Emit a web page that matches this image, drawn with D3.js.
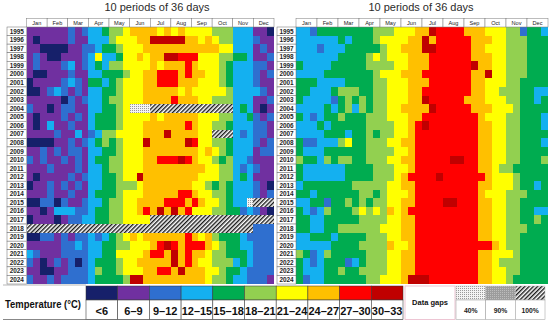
<!DOCTYPE html>
<meta charset="utf-8">
<style>
  body { margin: 0; background: #fff; }
  text { font-family: "Liberation Sans", Arial, sans-serif; }
  .narrow { font-family: "Liberation Sans Narrow", "Arial Narrow", "Liberation Sans", sans-serif; font-weight: bold; }
</style>
<svg width="550" height="324"></svg>
<script src="https://d3js.org/d3.v7.min.js"></script>
<script>

    // ---- data ----
    var chartTitle = "10 periods of 36 days";
    var years = [1995, 1996, 1997, 1998, 1999, 2000, 2001, 2002, 2003, 2004,
                 2005, 2006, 2007, 2008, 2009, 2010, 2011, 2012, 2013, 2014,
                 2015, 2016, 2017, 2018, 2019, 2020, 2021, 2022, 2023, 2024];
    var months = ["Jan", "Feb", "Mar", "Apr", "May", "Jun", "Jul", "Aug", "Sep", "Oct", "Nov", "Dec"];
    var tempClasses = ["<6", "6-9", "9-12", "12-15", "15-18", "18-21", "21-24", "24-27", "27-30", "30-33"];
    var tempColors = ["#16206a", "#7030a0", "#2f6fcf", "#14b0f0", "#00ac50",
                      "#92d050", "#ffff00", "#ffc000", "#ff0000", "#c00000"];
    var gapClasses = ["40%", "90%", "100%"];

    // class index per 10-day period (3 per month); d = 40% gap, h = 100% gap
    var leftRows = [
        "111 111 212 334 556 777 767 676 666 555 333 110",
        "101 111 211 333 566 677 999 997 767 655 333 211",
        "110 000 112 234 456 667 777 777 777 766 333 121",
        "121 001 112 363 346 676 779 988 866 655 443 112",
        "121 112 312 343 556 666 767 778 766 654 333 221",
        "100 111 211 334 445 667 788 878 776 654 333 212",
        "011 112 321 443 456 667 788 877 766 654 333 211",
        "001 232 121 334 456 667 777 767 666 665 333 321",
        "111 110 212 334 556 667 777 877 766 555 333 112",
        "211 012 211 334 456 ddd hhh hhh hhh hhh 343 101",
        "101 112 121 344 456 666 767 777 766 655 334 212",
        "101 311 211 344 456 667 777 778 766 554 333 221",
        "111 121 131 235 566 667 779 777 766 hhh 323 221",
        "000 011 212 345 456 669 777 779 866 554 333 212",
        "112 121 221 334 456 667 777 777 767 654 333 122",
        "212 112 121 344 556 667 788 898 766 545 332 111",
        "111 211 121 334 556 667 777 777 776 655 323 211",
        "101 111 212 334 456 697 777 777 766 655 343 111",
        "011 212 121 334 455 567 777 777 665 454 333 210",
        "111 211 211 344 456 667 777 788 766 554 333 212",
        "002 202 112 334 556 677 778 887 876 654 33d hhh",
        "110 133 322 344 556 678 797 978 666 554 423 210",
        "011 101 223 344 556 666 hhh hhh hhh hhh hhh hhh",
        "hhh hhh hhh hhh hhh hhh hhh hhh hhh hhh hhh 222",
        "002 212 122 323 456 767 777 778 767 544 432 222",
        "111 112 232 334 455 666 789 878 887 654 433 222",
        "321 112 222 334 466 667 887 978 776 554 443 222",
        "210 121 202 344 456 677 777 978 766 555 343 222",
        "110 011 222 354 456 667 788 797 776 654 432 222",
        "211 212 222 344 445 997 777 777 776 554 332 221"
    ];
    var rightRows = [
        "332 444 444 445 556 667 798 888 777 666 552 443",
        "333 333 434 445 666 677 978 888 877 766 555 444",
        "333 233 344 444 566 777 998 888 877 666 555 444",
        "333 333 444 456 566 677 788 888 877 766 555 444",
        "433 334 444 455 556 677 788 888 897 766 555 444",
        "333 344 444 445 666 777 888 888 877 966 555 444",
        "444 333 344 445 566 677 788 888 877 666 554 444",
        "443 334 555 445 566 677 888 888 877 665 554 433",
        "433 332 454 545 566 677 988 888 777 666 554 434",
        "333 343 453 545 566 777 798 888 877 766 654 444",
        "432 344 544 455 566 677 888 888 887 666 554 443",
        "333 434 444 455 556 678 988 888 887 766 554 443",
        "333 344 434 454 556 678 888 888 887 766 554 444",
        "422 333 564 455 566 778 888 888 887 766 554 443",
        "433 344 444 455 556 678 888 888 887 766 554 444",
        "544 354 554 455 566 778 888 899 887 766 554 445",
        "433 333 344 445 556 678 888 888 887 765 544 444",
        "433 333 344 445 556 788 889 888 888 766 654 444",
        "344 444 445 555 566 778 888 888 887 766 654 434",
        "443 444 444 554 566 678 888 888 887 666 555 444",
        "334 424 454 545 566 778 888 998 887 766 554 444",
        "432 354 445 656 576 788 888 888 887 766 554 433",
        "443 344 444 555 566 778 888 888 887 766 554 454",
        "443 344 555 555 666 778 888 888 887 766 555 444",
        "334 443 444 455 566 778 888 888 887 766 554 444",
        "333 334 444 555 576 678 888 888 888 876 554 444",
        "542 354 444 455 566 778 888 888 887 766 654 444",
        "432 344 423 455 566 778 888 888 887 765 554 444",
        "433 344 544 555 566 778 888 888 887 766 554 444",
        "423 344 444 455 666 799 988 888 887 766 544 444"
    ];

    // ---- setup ----
    var svg = d3.select("svg");
    var defs = svg.append("defs");

    var hatch = defs.append("pattern").attr("id", "hatch")
        .attr("patternUnits", "userSpaceOnUse")
        .attr("width", 3).attr("height", 3)
        .attr("patternTransform", "rotate(45)");
    hatch.append("rect").attr("width", 3).attr("height", 3).attr("fill", "#fff");
    hatch.append("rect").attr("width", 1.4).attr("height", 3).attr("fill", "#1a1a1a");

    var dots40 = defs.append("pattern").attr("id", "dots40")
        .attr("patternUnits", "userSpaceOnUse").attr("width", 2).attr("height", 2);
    dots40.append("rect").attr("width", 2).attr("height", 2).attr("fill", "#f4f4f4");
    dots40.append("rect").attr("width", 1).attr("height", 1).attr("fill", "#9a9a9a");

    var dots90 = defs.append("pattern").attr("id", "dots90")
        .attr("patternUnits", "userSpaceOnUse").attr("width", 2).attr("height", 2);
    dots90.append("rect").attr("width", 2).attr("height", 2).attr("fill", "#9c9c9c");
    dots90.append("rect").attr("width", 1).attr("height", 1).attr("fill", "#bdbdbd");

    function fillFor(v) {
        if (v === "h") return "url(#hatch)";
        if (v === "d") return "url(#dots40)";
        if (v === "g") return "url(#dots90)";
        return tempColors[+v];
    }

    var gridTop = 27, gridBottom = 284, headTop = 18.5;
    var y = d3.scaleBand().domain(years).range([gridTop, gridBottom]);

    var panels = [
        { rows: leftRows, x0: 26.5, x1: 274, lab: 7, labW: 19.5, tx: 157 },
        { rows: rightRows, x0: 296, x1: 548, lab: 277, labW: 19, tx: 421 }
    ];

    panels.forEach(function (p) {
        var x = d3.scaleBand().domain(d3.range(36)).range([p.x0, p.x1]);
        var xm = d3.scaleBand().domain(months).range([p.x0, p.x1]);
        var g = svg.append("g");

        var cells = [];
        p.rows.forEach(function (r, j) {
            r.replace(/ /g, "").split("").forEach(function (c, k) {
                cells.push({ year: years[j], col: k, v: c });
            });
        });

        g.selectAll("rect.cell")
            .data(cells)
            .enter()
            .append("rect")
            .attr("class", "cell")
            .attr("x", function (d) { return x(d.col); })
            .attr("y", function (d) { return y(d.year); })
            .attr("width", x.bandwidth())
            .attr("height", y.bandwidth())
            .attr("shape-rendering", "crispEdges")
            .attr("fill", function (d) { return fillFor(d.v); });

        // month header
        var head = g.selectAll("g.month")
            .data(months)
            .enter()
            .append("g")
            .attr("class", "month");
        head.append("rect")
            .attr("x", function (d) { return xm(d); })
            .attr("y", headTop)
            .attr("width", xm.bandwidth())
            .attr("height", gridTop - headTop)
            .attr("fill", "#fff")
            .attr("stroke", "#7a7a7a")
            .attr("stroke-width", 0.5);
        head.append("text")
            .attr("x", function (d) { return xm(d) + xm.bandwidth() / 2; })
            .attr("y", headTop + 6.2)
            .attr("text-anchor", "middle")
            .attr("font-size", 5.6)
            .attr("fill", "#222")
            .text(function (d) { return d; });

        // year labels
        var yl = g.selectAll("g.year")
            .data(years)
            .enter()
            .append("g")
            .attr("class", "year");
        yl.append("rect")
            .attr("x", p.lab)
            .attr("y", function (d) { return y(d); })
            .attr("width", p.labW)
            .attr("height", y.bandwidth())
            .attr("fill", "#fff")
            .attr("stroke", "#6a6a6a")
            .attr("stroke-width", 0.5);
        yl.append("text")
            .attr("x", p.lab + p.labW / 2)
            .attr("y", function (d) { return y(d) + y.bandwidth() / 2 + 2.3; })
            .attr("text-anchor", "middle")
            .attr("font-size", 6.4)
            .attr("font-weight", "bold")
            .attr("fill", "#222")
            .text(function (d) { return d; });

        svg.append("text")
            .attr("x", p.tx)
            .attr("y", 11)
            .attr("text-anchor", "middle")
            .attr("font-size", 11)
            .attr("fill", "#2a2a2a")
            .text(chartTitle);
    });

    // ---- legend ----
    var leg = svg.append("g");
    var lx = d3.scaleBand().domain(d3.range(tempClasses.length)).range([86, 403]);
    var swTop = 286, swMid = 300, swBot = 319.5;

    leg.append("line").attr("x1", 3).attr("x2", 86).attr("y1", 285).attr("y2", 285)
        .attr("stroke", "#888").attr("stroke-width", 0.6);
    leg.append("line").attr("x1", 3).attr("x2", 403).attr("y1", swBot).attr("y2", swBot)
        .attr("stroke", "#555").attr("stroke-width", 0.7);
    leg.append("text")
        .attr("class", "narrow")
        .attr("x", 5)
        .attr("y", 307.5)
        .attr("font-size", 10.5)
        .attr("textLength", 76)
        .attr("lengthAdjust", "spacingAndGlyphs")
        .attr("fill", "#111")
        .text("Temperature (°C)");

    leg.selectAll("rect.sw")
        .data(tempClasses)
        .enter()
        .append("rect")
        .attr("class", "sw")
        .attr("x", function (d, i) { return lx(i); })
        .attr("y", swTop)
        .attr("width", lx.bandwidth())
        .attr("height", swMid - swTop)
        .attr("fill", function (d, i) { return tempColors[i]; })
        .attr("stroke", "#333")
        .attr("stroke-width", 0.5);
    leg.selectAll("rect.lb")
        .data(tempClasses)
        .enter()
        .append("rect")
        .attr("class", "lb")
        .attr("x", function (d, i) { return lx(i); })
        .attr("y", swMid)
        .attr("width", lx.bandwidth())
        .attr("height", swBot - swMid)
        .attr("fill", "#fff")
        .attr("stroke", "#444")
        .attr("stroke-width", 0.6);
    leg.selectAll("text.lb")
        .data(tempClasses)
        .enter()
        .append("text")
        .attr("class", "narrow lb")
        .attr("x", function (d, i) { return lx(i) + lx.bandwidth() / 2; })
        .attr("y", 314.5)
        .attr("text-anchor", "middle")
        .attr("font-size", 11)
        .attr("fill", "#111")
        .text(function (d) { return d.replace("-", "–"); });

    // data gaps
    leg.append("rect")
        .attr("x", 405).attr("y", swTop).attr("width", 50).attr("height", swBot - swTop)
        .attr("fill", "#fff").attr("stroke", "#e9b7c9").attr("stroke-width", 0.8);
    leg.append("text")
        .attr("class", "narrow")
        .attr("x", 430).attr("y", 305)
        .attr("text-anchor", "middle")
        .attr("font-size", 7.5)
        .attr("fill", "#111")
        .text("Data gaps");

    var gx = d3.scaleBand().domain(gapClasses).range([456, 545]);
    var gapFill = { "40%": "url(#dots40)", "90%": "url(#dots90)", "100%": "url(#hatch)" };
    leg.selectAll("rect.gsw")
        .data(gapClasses)
        .enter()
        .append("rect")
        .attr("class", "gsw")
        .attr("x", function (d) { return gx(d); })
        .attr("y", swTop)
        .attr("width", gx.bandwidth())
        .attr("height", swMid - swTop)
        .attr("fill", function (d) { return gapFill[d]; })
        .attr("stroke", "#bbb")
        .attr("stroke-width", 0.5);
    leg.selectAll("rect.glb")
        .data(gapClasses)
        .enter()
        .append("rect")
        .attr("class", "glb")
        .attr("x", function (d) { return gx(d); })
        .attr("y", swMid)
        .attr("width", gx.bandwidth())
        .attr("height", swBot - swMid)
        .attr("fill", "#fff")
        .attr("stroke", "#999")
        .attr("stroke-width", 0.5);
    leg.selectAll("text.glb")
        .data(gapClasses)
        .enter()
        .append("text")
        .attr("class", "narrow glb")
        .attr("x", function (d) { return gx(d) + gx.bandwidth() / 2; })
        .attr("y", 313)
        .attr("text-anchor", "middle")
        .attr("font-size", 6.8)
        .attr("fill", "#222")
        .text(function (d) { return d; });

</script>
